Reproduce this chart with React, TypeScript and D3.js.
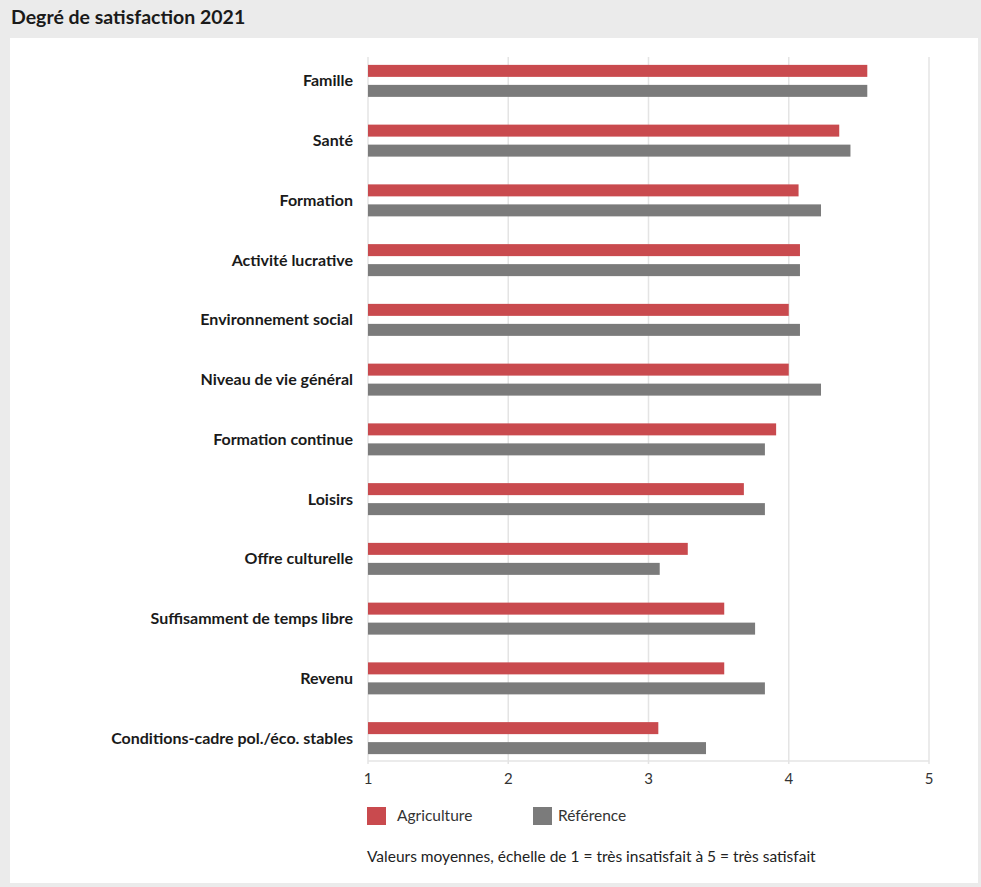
import React from "react";
import * as d3 from "d3";

const categories = [
  "Famille",
  "Santé",
  "Formation",
  "Activité lucrative",
  "Environnement social",
  "Niveau de vie général",
  "Formation continue",
  "Loisirs",
  "Offre culturelle",
  "Suffisamment de temps libre",
  "Revenu",
  "Conditions-cadre pol./éco. stables",
];
const agriculture = [4.56, 4.36, 4.07, 4.08, 4.0, 4.0, 3.91, 3.68, 3.28, 3.54, 3.54, 3.07];
const reference = [4.56, 4.44, 4.23, 4.08, 4.08, 4.23, 3.83, 3.83, 3.08, 3.76, 3.83, 3.41];
const xTicks = [1, 2, 3, 4, 5];
const seriesNames = ["Agriculture", "Référence"];
const title = "Degré de satisfaction 2021";
const footnote = "Valeurs moyennes, échelle de 1 = très insatisfait à 5 = très satisfait";

const RED = "#c94a4e";
const GRAY = "#7b7b7b";
const FONT = "Lato, 'Open Sans', sans-serif";

export default function App() {
  const W = 981;
  const H = 887;
  const x = d3.scaleLinear().domain([1, 5]).range([368, 929]);
  const y = d3.scaleBand<string>().domain(categories).range([51, 768]).padding(0);
  const gridTop = 57;
  const gridBottom = 761;

  return (
    <svg
      width={W}
      height={H}
      style={{ position: "absolute", left: 0, top: 0, fontFamily: FONT }}
    >
      <rect x={0} y={0} width={W} height={H} fill="#ebebeb" />
      <rect x={10} y={38} width={968} height={845} fill="#ffffff" />
      <text x={11} y={24} fontSize={19.5} fontWeight={700} fill="#1a1a1a">
        {title}
      </text>

      {xTicks.map((t) => (
        <line
          key={"g" + t}
          x1={x(t)}
          x2={x(t)}
          y1={gridTop}
          y2={gridBottom + 3}
          stroke="#e4e4e4"
          strokeWidth={1.5}
        />
      ))}
      <line x1={x(1)} x2={x(5)} y1={gridBottom} y2={gridBottom} stroke="#e4e4e4" strokeWidth={1.5} />

      {categories.map((c, i) => {
        const cy = (y(c) as number) + y.bandwidth() / 2;
        return (
          <g key={c}>
            <text
              x={353}
              y={cy}
              dy="0.35em"
              textAnchor="end"
              fontSize={16}
              fontWeight={700}
              fill="#1a1a1a"
            >
              {c}
            </text>
            <rect x={x(1)} y={cy - 16} width={x(agriculture[i]) - x(1)} height={12} fill={RED} />
            <rect x={x(1)} y={cy + 4} width={x(reference[i]) - x(1)} height={12} fill={GRAY} />
          </g>
        );
      })}

      {xTicks.map((t) => (
        <text
          key={"t" + t}
          x={x(t)}
          y={779}
          dy="0.35em"
          textAnchor="middle"
          fontSize={15}
          fill="#333"
        >
          {t}
        </text>
      ))}

      <rect x={367} y={807} width={19} height={18} fill={RED} />
      <text x={397} y={816} dy="0.35em" fontSize={15.5} fill="#333">
        {seriesNames[0]}
      </text>
      <rect x={533} y={807} width={19} height={18} fill={GRAY} />
      <text x={558} y={816} dy="0.35em" fontSize={15.5} fill="#333">
        {seriesNames[1]}
      </text>

      <text x={367} y={857} dy="0.35em" fontSize={15.5} fill="#222">
        {footnote}
      </text>
    </svg>
  );
}
